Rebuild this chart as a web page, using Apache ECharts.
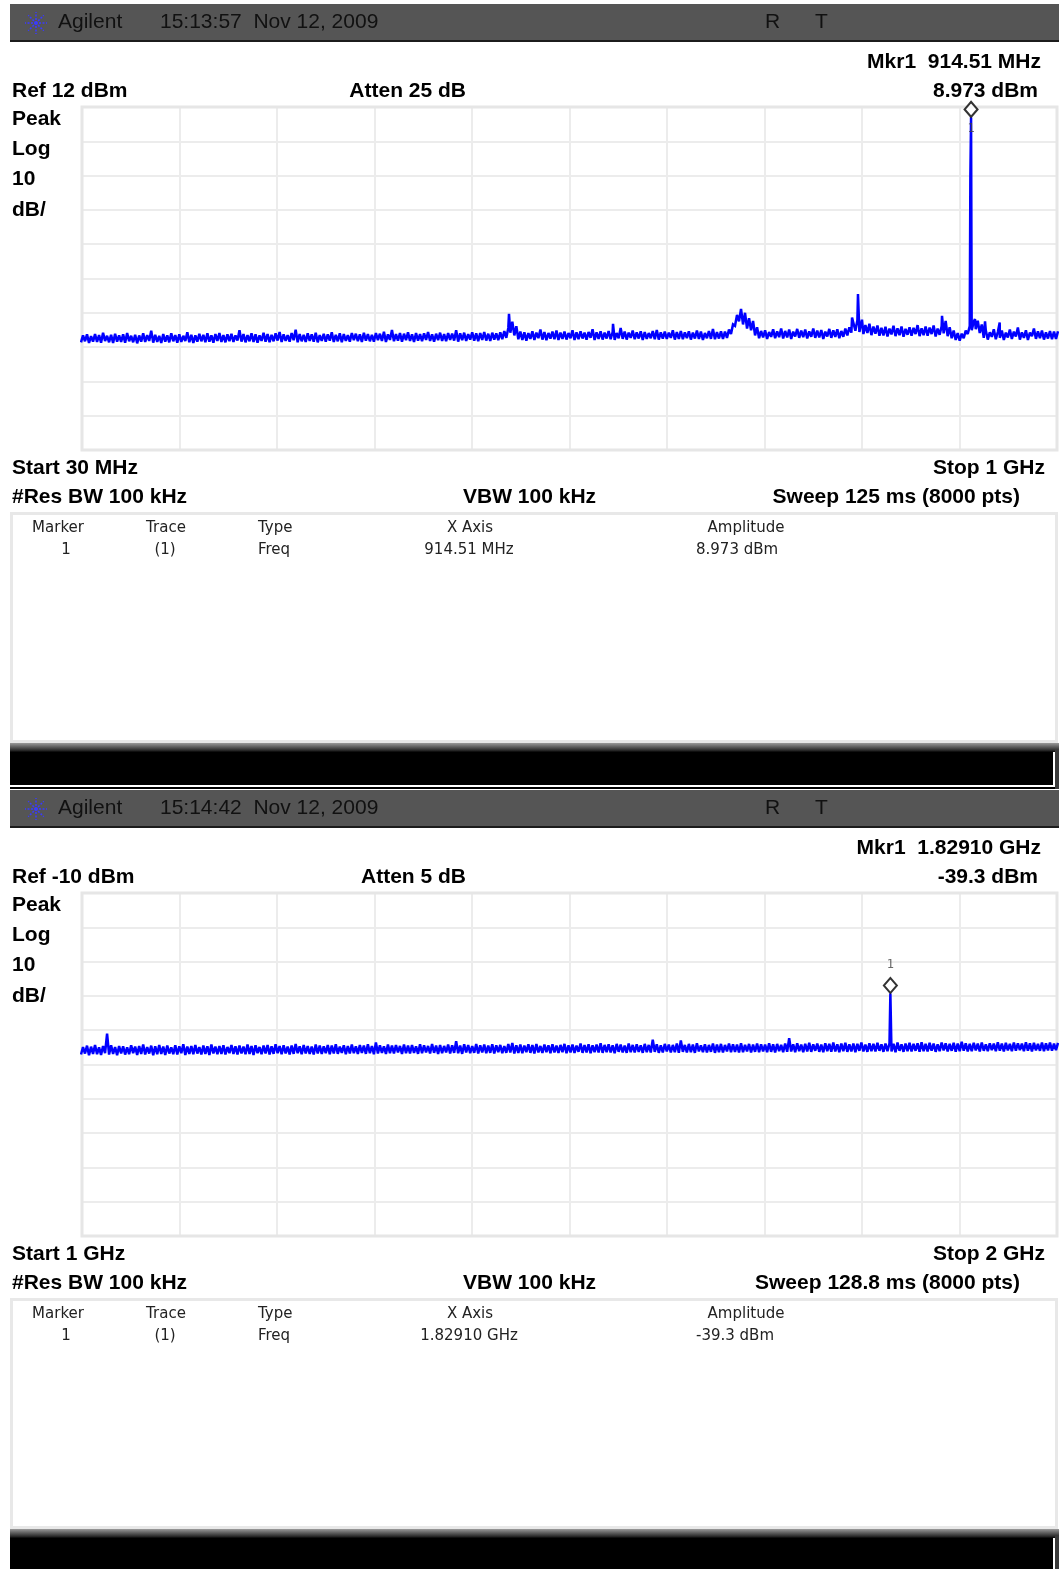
<!DOCTYPE html>
<html>
<head>
<meta charset="utf-8">
<title>Agilent spectrum sweeps</title>
<script src="https://cdn.jsdelivr.net/npm/echarts@6/dist/echarts.min.js"></script>
<style>
  html, body { margin: 0; padding: 0; background: #ffffff; }
  #chart { width: 1059px; height: 1569px; }
</style>
</head>
<body>
<div id="chart"></div>
<script>
// ---- Sweep 1: 30 MHz .. 1 GHz, Ref 12 dBm, 10 dB/div ----
// Each display bin is a peak-detected column: its upper and lower edge in dBm.
const TOP_SPAN = [30, 1000];          // MHz
const TOP_REF = 12;                   // dBm at top graticule line
const TOP_HI = [
  -54.6,-54.3,-54.8,-54.2,-54.5,-53.8,-54.7,-54.4,-54.1,-54.6,
  -54.3,-53.9,-54.7,-54.4,-54.6,-54.0,-54.5,-53.2,-54.4,-54.7,
  -54.2,-54.6,-54.0,-54.5,-54.3,-54.7,-53.7,-54.4,-54.6,-54.1,
  -54.4,-54.0,-54.6,-54.2,-53.9,-54.5,-54.3,-54.1,-54.6,-53.1,
  -54.2,-54.5,-54.0,-54.3,-54.6,-53.8,-54.2,-54.4,-54.0,-53.6,
  -54.3,-54.5,-53.9,-52.9,-54.2,-54.4,-54.0,-54.3,-53.8,-54.5,
  -54.1,-54.3,-53.7,-54.4,-54.0,-54.2,-54.5,-53.9,-54.1,-54.3,
  -53.8,-54.2,-54.4,-53.9,-54.1,-53.5,-54.3,-53.0,-54.2,-53.9,
  -54.1,-53.7,-54.3,-53.9,-54.2,-54.0,-53.6,-54.3,-54.1,-53.8,
  -54.2,-53.9,-54.1,-53.1,-54.0,-53.8,-54.2,-53.7,-54.0,-53.9,
  -53.6,-54.1,-53.8,-54.0,-53.7,-53.3,-52.4,-50.6,-51.9,-53.5,
  -53.7,-53.9,-53.4,-53.8,-52.9,-53.6,-53.9,-53.5,-53.2,-53.8,
  -53.5,-53.9,-53.1,-53.7,-53.4,-53.8,-53.6,-52.8,-53.7,-53.4,
  -53.8,-53.3,-53.6,-53.9,-52.4,-53.5,-53.8,-53.2,-53.7,-53.4,
  -53.6,-53.9,-53.3,-53.0,-53.7,-53.5,-53.8,-53.1,-53.6,-53.3,
  -53.7,-53.4,-53.8,-53.2,-53.5,-53.9,-53.3,-52.7,-53.6,-53.4,
  -53.5,-52.9,-51.4,-48.6,-46.9,-48.0,-49.6,-50.4,-52.2,-53.3,
  -53.1,-53.6,-52.8,-53.4,-52.6,-53.3,-52.9,-53.5,-52.7,-53.2,
  -52.9,-53.4,-52.6,-53.2,-53.0,-53.5,-52.7,-53.1,-52.8,-53.3,
  -52.6,-52.2,-50.9,-50.2,-50.8,-51.6,-51.2,-52.0,-51.7,-52.4,
  -52.1,-52.6,-51.8,-52.5,-52.0,-52.7,-52.2,-52.4,-51.6,-52.5,
  -52.0,-52.3,-51.7,-52.6,-51.9,-50.4,-52.2,-53.2,-53.9,-54.1,
  -53.2,-51.9,-50.6,-50.3,-51.4,-53.1,-53.7,-52.8,-53.6,-53.2,
  -53.8,-52.9,-53.5,-52.3,-53.7,-53.1,-53.8,-52.6,-53.4,-53.2,
  -53.7,-53.3,-53.5,-53.4
];
const TOP_LO = [
  -56.6,-56.3,-56.8,-56.4,-56.5,-56.7,-56.2,-56.6,-56.8,-56.4,
  -56.5,-56.7,-56.3,-56.6,-56.9,-56.4,-56.5,-56.2,-56.7,-56.5,
  -56.8,-56.4,-56.6,-56.3,-56.7,-56.5,-56.2,-56.6,-56.8,-56.4,
  -56.3,-56.6,-56.4,-56.7,-56.2,-56.5,-56.6,-56.3,-56.5,-56.1,
  -56.4,-56.6,-56.3,-56.5,-56.7,-56.2,-56.4,-56.6,-56.3,-56.1,
  -56.5,-56.2,-56.4,-56.0,-56.6,-56.3,-56.5,-56.2,-56.4,-56.6,
  -56.2,-56.4,-56.1,-56.5,-56.3,-56.6,-56.2,-56.4,-56.0,-56.3,
  -56.5,-56.1,-56.3,-56.4,-56.0,-56.2,-56.5,-55.9,-56.3,-56.1,
  -56.4,-56.0,-56.2,-56.5,-56.1,-56.3,-55.9,-56.2,-56.4,-56.0,
  -56.2,-56.3,-55.9,-56.1,-56.4,-56.0,-56.2,-55.8,-56.1,-56.3,
  -55.9,-56.1,-56.2,-55.8,-56.0,-55.7,-55.3,-53.8,-54.6,-55.7,
  -55.9,-56.1,-55.6,-55.9,-55.4,-55.8,-56.0,-55.5,-55.7,-55.9,
  -55.6,-55.8,-55.4,-55.9,-55.7,-55.5,-55.8,-55.3,-55.9,-55.6,
  -55.8,-55.5,-55.7,-55.9,-55.4,-55.6,-55.8,-55.3,-55.7,-55.5,
  -55.9,-55.6,-55.4,-55.7,-55.8,-55.5,-55.6,-55.3,-55.8,-55.6,
  -55.7,-55.4,-55.8,-55.5,-55.6,-55.9,-55.4,-55.6,-55.7,-55.5,
  -55.6,-55.3,-54.2,-51.8,-50.5,-51.4,-52.6,-53.1,-54.6,-55.4,
  -55.2,-55.6,-55.0,-55.4,-55.1,-55.5,-55.2,-55.6,-54.9,-55.3,
  -55.1,-55.5,-55.0,-55.3,-55.2,-55.6,-54.9,-55.3,-55.0,-55.4,
  -55.0,-54.6,-53.8,-53.2,-53.6,-54.2,-53.9,-54.5,-54.1,-54.7,
  -54.6,-54.9,-54.3,-54.8,-54.5,-55.0,-54.4,-54.7,-54.2,-54.8,
  -54.5,-54.7,-54.2,-54.9,-54.4,-54.0,-54.8,-55.4,-55.9,-56.1,
  -55.4,-54.2,-53.1,-52.8,-53.9,-55.3,-55.8,-55.0,-55.7,-55.3,
  -55.9,-55.2,-55.6,-54.9,-55.8,-55.3,-55.9,-54.8,-55.6,-55.4,
  -55.8,-55.5,-55.7,-55.6
];
// narrow spurs that fall between display bins: [MHz, dBm]
const TOP_SPURS = [
  [454.8, -48.3], [558.3, -51.2], [686.6, -47.0], [796.1, -49.4],
  [802.0, -42.5], [806.0, -50.0], [885.6, -48.9], [913.8, -8.4],
  [914.51, 8.973], [915.1, -51.0], [918.4, -49.8], [928.4, -50.5],
  [943.0, -50.8]
];
const TOP_MARKER = [914.51, 8.973];

// ---- Sweep 2: 1 GHz .. 2 GHz, Ref -10 dBm, 10 dB/div ----
const BOTTOM_SPAN = [1000, 2000];     // MHz
const BOTTOM_REF = -10;
const BOTTOM_HI = [
  -54.9,-54.5,-54.8,-54.3,-55.0,-54.6,-51.0,-54.4,-54.9,-54.6,
  -54.7,-55.0,-54.4,-54.8,-54.6,-54.2,-54.9,-54.5,-54.7,-54.3,
  -54.8,-54.5,-55.0,-54.4,-54.7,-54.1,-54.8,-54.6,-54.3,-54.9,
  -54.5,-54.7,-54.2,-54.8,-54.6,-54.4,-54.9,-54.3,-54.7,-54.5,
  -54.8,-54.2,-54.6,-54.4,-54.9,-54.5,-54.3,-54.7,-54.1,-54.6,
  -54.4,-54.8,-54.5,-54.0,-54.7,-54.3,-54.6,-54.8,-54.2,-54.5,
  -54.7,-54.3,-54.5,-54.1,-54.8,-54.4,-54.6,-54.2,-54.7,-54.3,
  -54.5,-54.1,-54.6,-53.6,-54.4,-54.7,-54.2,-54.5,-54.3,-54.6,
  -54.2,-54.5,-54.3,-54.7,-54.1,-54.4,-54.6,-54.0,-54.5,-54.3,
  -54.6,-54.2,-54.4,-53.2,-54.5,-54.1,-54.3,-54.6,-54.0,-54.4,
  -54.2,-54.5,-54.1,-54.4,-54.3,-54.6,-54.0,-53.7,-54.4,-54.2,
  -54.5,-54.1,-54.3,-54.0,-54.6,-54.2,-54.4,-54.1,-54.5,-54.3,
  -54.0,-54.4,-54.2,-54.5,-53.9,-54.3,-54.1,-54.4,-54.2,-53.8,
  -54.3,-54.1,-54.4,-54.0,-54.2,-54.5,-53.9,-54.3,-54.1,-54.4,
  -54.0,-54.3,-52.8,-54.1,-54.4,-54.0,-54.2,-54.3,-53.9,-53.0,
  -54.3,-54.0,-54.2,-53.8,-54.4,-54.1,-54.3,-53.9,-54.2,-54.0,
  -54.3,-53.9,-54.1,-54.2,-53.8,-54.3,-54.0,-54.2,-53.9,-54.1,
  -54.2,-53.8,-54.1,-54.0,-54.3,-53.9,-52.3,-54.1,-53.8,-54.2,
  -54.0,-53.7,-54.1,-53.9,-54.2,-53.8,-54.0,-53.6,-54.1,-53.9,
  -53.7,-54.1,-53.9,-54.0,-53.6,-54.2,-53.8,-54.0,-53.7,-54.1,
  -53.9,-53.8,-54.0,-53.6,-54.1,-53.9,-53.7,-54.0,-53.8,-53.5,
  -54.0,-53.7,-53.9,-54.1,-53.6,-53.8,-54.0,-53.7,-53.9,-53.4,
  -53.8,-54.0,-53.7,-53.9,-53.6,-54.1,-53.8,-53.9,-53.5,-53.9,
  -53.7,-54.0,-53.6,-53.8,-53.9,-53.5,-53.8,-53.7,-54.0,-53.6,
  -53.8,-53.6,-53.9,-53.7
];
const BOTTOM_LO = [
  -57.1,-56.8,-57.3,-56.9,-57.0,-57.2,-56.7,-57.1,-56.9,-57.3,
  -56.8,-57.1,-57.0,-56.7,-57.2,-56.9,-57.1,-56.8,-57.3,-57.0,
  -56.9,-57.2,-56.8,-57.0,-57.1,-56.7,-57.2,-56.9,-57.0,-56.8,
  -57.1,-56.9,-57.2,-56.8,-57.0,-56.9,-57.1,-56.7,-56.9,-57.1,
  -56.8,-57.0,-56.9,-57.2,-56.7,-57.0,-56.8,-57.1,-56.9,-56.7,
  -57.0,-56.8,-57.1,-56.9,-56.7,-57.0,-56.8,-56.9,-57.1,-56.8,
  -56.9,-56.7,-57.0,-56.8,-56.9,-56.6,-57.0,-56.8,-56.7,-56.9,
  -56.6,-56.9,-56.7,-57.0,-56.8,-56.6,-56.9,-56.7,-56.8,-56.5,
  -56.9,-56.7,-56.8,-56.6,-56.9,-56.7,-56.5,-56.8,-56.6,-56.9,
  -56.7,-56.5,-56.8,-56.6,-56.7,-56.9,-56.5,-56.7,-56.6,-56.8,
  -56.5,-56.7,-56.6,-56.8,-56.4,-56.7,-56.6,-56.5,-56.8,-56.6,
  -56.7,-56.4,-56.6,-56.8,-56.5,-56.6,-56.4,-56.7,-56.5,-56.6,
  -56.4,-56.7,-56.5,-56.6,-56.3,-56.6,-56.5,-56.7,-56.4,-56.5,
  -56.6,-56.4,-56.5,-56.7,-56.3,-56.5,-56.6,-56.4,-56.5,-56.3,
  -56.6,-56.4,-56.5,-56.3,-56.6,-56.5,-56.2,-56.5,-56.4,-56.6,
  -56.3,-56.5,-56.4,-56.6,-56.2,-56.4,-56.5,-56.3,-56.6,-56.4,
  -56.5,-56.2,-56.4,-56.3,-56.5,-56.4,-56.2,-56.5,-56.3,-56.4,
  -56.2,-56.4,-56.3,-56.5,-56.1,-56.4,-56.3,-56.2,-56.4,-56.1,
  -56.4,-56.2,-56.3,-56.0,-56.3,-56.4,-56.1,-56.3,-56.2,-56.4,
  -56.1,-56.3,-56.2,-56.4,-56.0,-56.2,-56.3,-56.1,-56.2,-56.0,
  -56.3,-56.1,-56.2,-56.4,-56.0,-56.3,-56.1,-56.2,-56.0,-56.3,
  -56.1,-56.2,-56.0,-56.3,-56.1,-55.9,-56.2,-56.0,-56.3,-56.1,
  -56.0,-56.2,-56.1,-55.9,-56.2,-56.0,-56.1,-55.8,-56.1,-56.0,
  -56.2,-55.9,-56.1,-56.0,-55.8,-56.1,-56.0,-56.2,-55.9,-56.0,
  -56.1,-55.9,-56.0,-55.8
];
const BOTTOM_SPURS = [ [1829.10, -39.3] ];
const BOTTOM_MARKER = [1829.10, -39.3];

// ---- annotation text of each screen ----
const TOP_TEXT = {
  time: '15:13:57  Nov 12, 2009',
  mkrFreq: 'Mkr1  914.51 MHz', mkrAmp: '8.973 dBm',
  ref: 'Ref 12 dBm', atten: 'Atten 25 dB',
  start: 'Start 30 MHz', stop: 'Stop 1 GHz',
  rbw: '#Res BW 100 kHz', vbw: 'VBW 100 kHz', sweep: 'Sweep 125 ms (8000 pts)',
  tblX: '914.51 MHz', tblAmp: '8.973 dBm'
};
const BOTTOM_TEXT = {
  time: '15:14:42  Nov 12, 2009',
  mkrFreq: 'Mkr1  1.82910 GHz', mkrAmp: '-39.3 dBm',
  ref: 'Ref -10 dBm', atten: 'Atten 5 dB',
  start: 'Start 1 GHz', stop: 'Stop 2 GHz',
  rbw: '#Res BW 100 kHz', vbw: 'VBW 100 kHz', sweep: 'Sweep 128.8 ms (8000 pts)',
  tblX: '1.82910 GHz', tblAmp: '-39.3 dBm'
};
const SCALE_LABELS = ['Peak', 'Log', '10', 'dB/'];
const TABLE_HEAD = ['Marker', 'Trace', 'Type', 'X Axis', 'Amplitude'];

// ---- trace polyline: each bin drawn as a low->high stroke, spurs merged in by frequency ----
function buildTrace(hi, lo, span, spurs) {
  const n = hi.length;
  const step = (span[1] - span[0]) / (n - 1);
  const pts = [];
  for (let i = 0; i < n; i++) {
    const f = span[0] + i * step;
    pts.push([f - step / 4, lo[i]]);
    pts.push([f + step / 4, hi[i]]);
  }
  return pts.concat(spurs).sort((a, b) => a[0] - b[0]);
}

const BLUE = '#0000ff';
const GRID_LINE = { show: true, lineStyle: { color: '#ececec', width: 2 } };
const BOLD = '"Liberation Sans", Arial, sans-serif';

function divAxis(gi) {
  return { gridIndex: gi, type: 'value', min: 0, max: 10, interval: 1,
    axisLine: { show: false }, axisTick: { show: false }, axisLabel: { show: false },
    splitLine: GRID_LINE };
}
function dataAxis(gi, min, max) {
  return { gridIndex: gi, type: 'value', min: min, max: max, show: false, splitLine: { show: false } };
}

function text(x, y, s, o) {
  o = o || {};
  const align = o.align || 'left';
  return {
    type: 'text', z: 20, silent: true,
    style: {
      text: s, x: x, y: y,
      fill: o.color || '#000',
      fontSize: o.size || 21,
      fontWeight: o.weight || 'bold',
      fontFamily: o.family || BOLD,
      textAlign: align, align: align,
      textVerticalAlign: 'middle', verticalAlign: 'middle'
    }
  };
}

function logo(cx, cy) {
  const rays = [];
  for (let k = 0; k < 8; k++) {
    const a = k * Math.PI / 4;
    rays.push({ type: 'line', silent: true, z: 20,
      shape: { x1: cx + Math.cos(a) * 3, y1: cy + Math.sin(a) * 3, x2: cx + Math.cos(a) * 11, y2: cy + Math.sin(a) * 11 },
      style: { stroke: '#3a3aff', lineWidth: 1.5, lineDash: [2, 1.5] } });
  }
  rays.push({ type: 'circle', silent: true, z: 20, shape: { cx: cx, cy: cy, r: 2 }, style: { fill: '#3a3aff' } });
  return rays;
}

// one analyser screen: header bar, readouts, marker table and the black footer strip
function screen(dy, t) {
  const els = [];
  els.push({ type: 'rect', silent: true, z: 1, shape: { x: 10, y: 4 + dy, width: 1049, height: 37 }, style: { fill: '#555555' } });
  els.push({ type: 'rect', silent: true, z: 1, shape: { x: 10, y: 40 + dy, width: 1049, height: 2 }, style: { fill: '#1c1c1c' } });
  els.push.apply(els, logo(36, 23 + dy));
  const hdr = { weight: 'normal', size: 21, color: '#111', family: '"Liberation Sans", Arial, sans-serif' };
  els.push(text(58, 22 + dy, 'Agilent', hdr));
  els.push(text(160, 22 + dy, t.time, hdr));
  els.push(text(765, 22 + dy, 'R', hdr));
  els.push(text(815, 22 + dy, 'T', hdr));

  // readouts above the graticule
  els.push(text(1041, 62 + dy, t.mkrFreq, { align: 'right' }));
  els.push(text(12, 91 + dy, t.ref));
  els.push(text(466, 91 + dy, t.atten, { align: 'right' }));
  els.push(text(1038, 91 + dy, t.mkrAmp, { align: 'right' }));
  SCALE_LABELS.forEach((s, k) => els.push(text(12, 119 + dy + k * 30.3, s)));

  // graticule frame
  els.push({ type: 'rect', silent: true, z: 2, shape: { x: 82, y: 107 + dy, width: 975, height: 343 },
    style: { fill: null, stroke: '#e6e6e6', lineWidth: 3 } });

  // readouts below the graticule
  els.push(text(12, 468 + dy, t.start));
  els.push(text(1045, 468 + dy, t.stop, { align: 'right' }));
  els.push(text(12, 497 + dy, t.rbw));
  els.push(text(463, 497 + dy, t.vbw));
  els.push(text(1020, 497 + dy, t.sweep, { align: 'right' }));

  // marker table
  els.push({ type: 'rect', silent: true, z: 1, shape: { x: 11.5, y: 513.5 + dy, width: 1045, height: 228 },
    style: { fill: '#fff', stroke: '#e8e8e8', lineWidth: 3 } });
  const small = { weight: 'normal', size: 15, color: '#222', family: '"DejaVu Sans", sans-serif' };
  const cols = [[58, 'center'], [166, 'center'], [258, 'left'], [470, 'center'], [746, 'center']];
  TABLE_HEAD.forEach((h, k) => els.push(text(cols[k][0], 528 + dy, h, Object.assign({ align: cols[k][1] }, small))));
  els.push(text(66, 550 + dy, '1', Object.assign({ align: 'center' }, small)));
  els.push(text(165, 550 + dy, '(1)', Object.assign({ align: 'center' }, small)));
  els.push(text(258, 550 + dy, 'Freq', small));
  els.push(text(469, 550 + dy, t.tblX, Object.assign({ align: 'center' }, small)));
  els.push(text(696, 550 + dy, t.tblAmp, small));

  // black strip under the table
  const by = 743 + dy;
  els.push({ type: 'rect', silent: true, z: 1, shape: { x: 10, y: by, width: 1049, height: 46 },
    style: { fill: { type: 'linear', x: 0, y: 0, x2: 0, y2: 1, colorStops: [
      { offset: 0, color: '#9a9a9a' }, { offset: 0.16, color: '#2a2a2a' }, { offset: 0.2, color: '#000' }, { offset: 1, color: '#000' }] } } });
  els.push({ type: 'rect', silent: true, z: 1, shape: { x: 1055, y: by + 6, width: 4, height: 40 }, style: { fill: '#3a3a3a' } });
  els.push({ type: 'rect', silent: true, z: 2, shape: { x: 1053, y: by + 9, width: 2, height: 35 }, style: { fill: '#ffffff' } });
  els.push({ type: 'rect', silent: true, z: 2, shape: { x: 10, y: by + 42, width: 1045, height: 2 }, style: { fill: '#ffffff' } });
  return els;
}

const chart = echarts.init(document.getElementById('chart'), null, { renderer: 'canvas' });

function traceSeries(xi, yi, data, width) {
  return { type: 'line', xAxisIndex: xi, yAxisIndex: yi, data: data, symbol: 'none', showSymbol: false,
    sampling: null, lineStyle: { color: BLUE, width: width, join: 'miter', miterLimit: 2 }, z: 3, animation: false, silent: true };
}
function markerSeries(xi, yi, pt, labelDy) {
  return { type: 'scatter', xAxisIndex: xi, yAxisIndex: yi, data: [pt], symbol: 'diamond',
    symbolSize: [13, 15], symbolOffset: [0, -8], z: 6, animation: false, silent: true,
    itemStyle: { color: '#ffffff', borderColor: '#000000', borderWidth: 2 },
    label: { show: true, formatter: '1', position: 'inside', offset: [0, labelDy],
      color: '#444', fontSize: 12, fontFamily: '"DejaVu Sans Mono", monospace' } };
}

chart.setOption({
  animation: false,
  backgroundColor: '#ffffff',
  grid: [
    { left: 82, top: 107, width: 975, height: 343, containLabel: false },
    { left: 82, top: 893, width: 975, height: 343, containLabel: false }
  ],
  xAxis: [
    divAxis(0), dataAxis(0, TOP_SPAN[0], TOP_SPAN[1]),
    divAxis(1), dataAxis(1, BOTTOM_SPAN[0], BOTTOM_SPAN[1])
  ],
  yAxis: [
    divAxis(0), dataAxis(0, TOP_REF - 100, TOP_REF),
    divAxis(1), dataAxis(1, BOTTOM_REF - 100, BOTTOM_REF)
  ],
  series: [
    traceSeries(1, 1, buildTrace(TOP_HI, TOP_LO, TOP_SPAN, TOP_SPURS), 2.5),
    markerSeries(1, 1, TOP_MARKER, 19),
    traceSeries(3, 3, buildTrace(BOTTOM_HI, BOTTOM_LO, BOTTOM_SPAN, BOTTOM_SPURS), 2.5),
    markerSeries(3, 3, BOTTOM_MARKER, -21)
  ],
  graphic: { elements: screen(0, TOP_TEXT).concat(screen(786, BOTTOM_TEXT)) }
});
</script>
</body>
</html>
